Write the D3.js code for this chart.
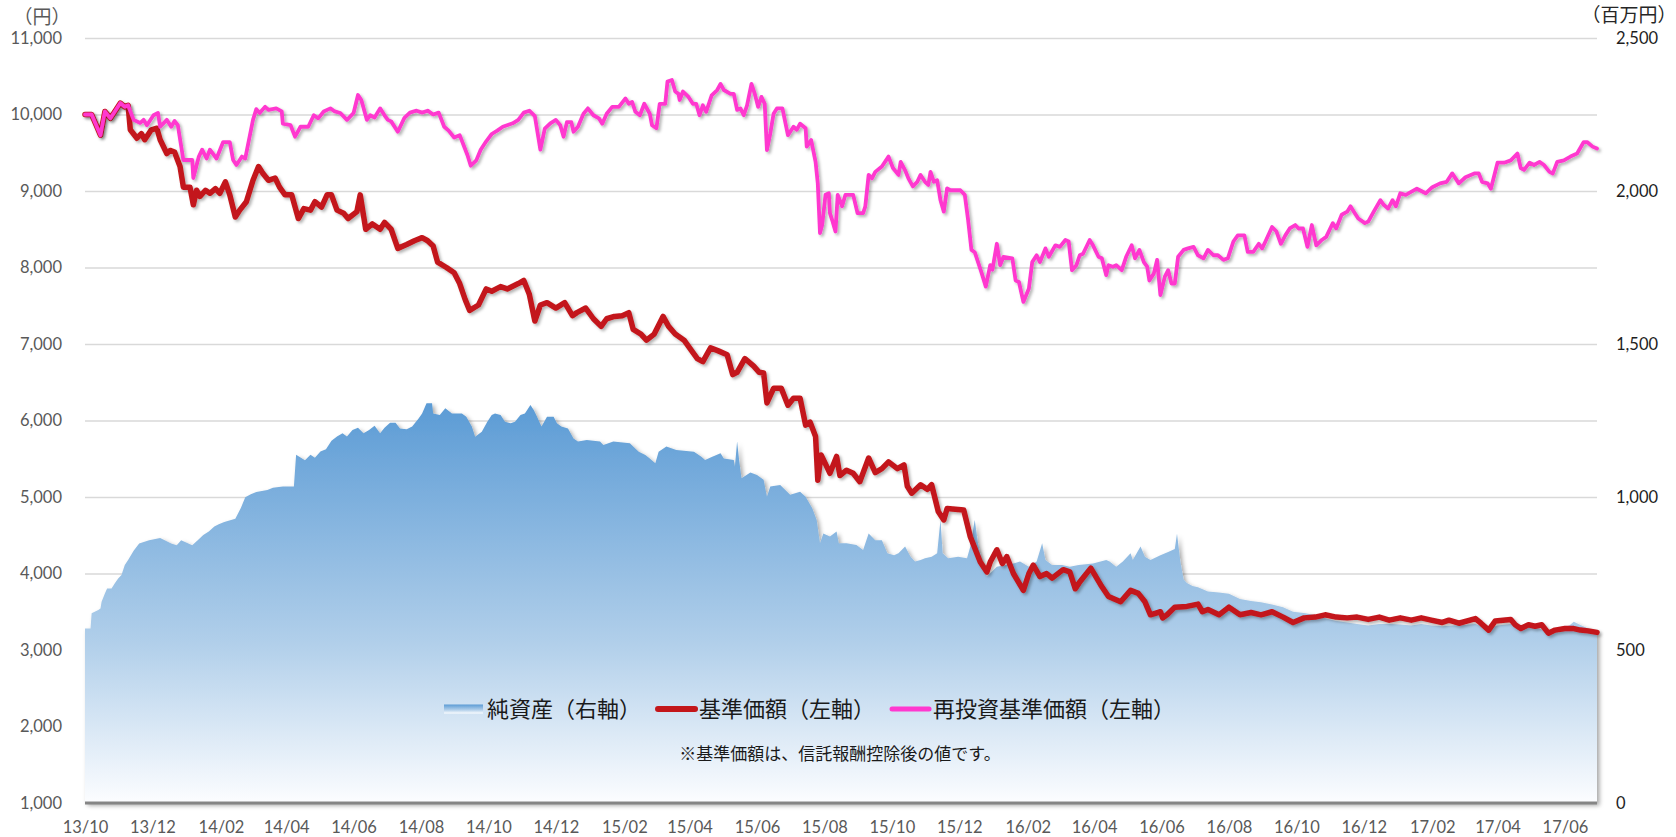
<!DOCTYPE html>
<html>
<head>
<meta charset="utf-8">
<script src="https://cdn.jsdelivr.net/npm/d3@7"></script>
<style>
  body { margin: 0; background: #fff; }
  #chart svg { display: block; }
</style>
</head>
<body>
<div id="chart"></div>
<script>
// x axis labels, left axis (円) and right axis (百万円)
const tickLabels = ["13/10","13/12","14/02","14/04","14/06","14/08","14/10","14/12","15/02","15/04","15/06","15/08","15/10","15/12","16/02","16/04","16/06","16/08","16/10","16/12","17/02","17/04","17/06"];
const leftTicks = [1000,2000,3000,4000,5000,6000,7000,8000,9000,10000,11000];
const rightTicks = [0,500,1000,1500,2000,2500];
const seriesNames = ["純資産（右軸）","基準価額（左軸）","再投資基準価額（左軸）"];

// 純資産 (百万円)
const netAssets = [["2013-10-01",570],["2013-10-06",570],["2013-10-07",620],["2013-10-13",631],["2013-10-15",636],["2013-10-16",658],["2013-10-19",685],["2013-10-21",701],["2013-10-25",701],["2013-10-28",718],["2013-10-31",734],["2013-11-03",745],["2013-11-06",778],["2013-11-09",794],["2013-11-14",824],["2013-11-19",848],["2013-11-28",859],["2013-12-08",866],["2013-12-18",848],["2013-12-23",842],["2013-12-27",859],["2014-01-06",842],["2014-01-11",859],["2014-01-16",876],["2014-01-21",887],["2014-01-26",904],["2014-01-30",911],["2014-02-04",918],["2014-02-14",929],["2014-02-19",964],["2014-02-23",999],["2014-02-28",1009],["2014-03-05",1016],["2014-03-15",1023],["2014-03-20",1030],["2014-03-29",1034],["2014-04-08",1034],["2014-04-10",1138],["2014-04-18",1120],["2014-04-23",1138],["2014-04-27",1128],["2014-05-02",1149],["2014-05-07",1156],["2014-05-12",1184],["2014-05-17",1198],["2014-05-22",1208],["2014-05-26",1198],["2014-05-31",1219],["2014-06-05",1226],["2014-06-10",1208],["2014-06-15",1219],["2014-06-20",1233],["2014-06-25",1208],["2014-06-29",1226],["2014-07-04",1243],["2014-07-09",1243],["2014-07-13",1224],["2014-07-19",1221],["2014-07-24",1230],["2014-07-30",1257],["2014-08-02",1273],["2014-08-06",1306],["2014-08-11",1306],["2014-08-12",1273],["2014-08-18",1268],["2014-08-23",1290],["2014-08-29",1273],["2014-09-07",1273],["2014-09-11",1262],["2014-09-16",1230],["2014-09-19",1197],["2014-09-25",1213],["2014-09-30",1246],["2014-10-04",1268],["2014-10-07",1273],["2014-10-12",1268],["2014-10-16",1246],["2014-10-21",1241],["2014-10-25",1246],["2014-10-30",1268],["2014-11-03",1273],["2014-11-08",1301],["2014-11-11",1284],["2014-11-14",1262],["2014-11-18",1230],["2014-11-23",1262],["2014-11-29",1262],["2014-12-02",1241],["2014-12-06",1230],["2014-12-12",1224],["2014-12-17",1191],["2014-12-21",1181],["2014-12-29",1186],["2015-01-10",1181],["2015-01-13",1170],["2015-01-22",1181],["2015-02-06",1176],["2015-02-09",1165],["2015-02-14",1148],["2015-02-20",1137],["2015-02-24",1126],["2015-03-01",1110],["2015-03-04",1148],["2015-03-11",1165],["2015-03-20",1154],["2015-04-05",1148],["2015-04-12",1131],["2015-04-15",1121],["2015-04-21",1131],["2015-04-29",1143],["2015-05-02",1126],["2015-05-11",1121],["2015-05-12",1099],["2015-05-14",1181],["2015-05-16",1115],["2015-05-18",1061],["2015-05-26",1080],["2015-06-01",1072],["2015-06-07",1056],["2015-06-10",1001],["2015-06-13",1034],["2015-06-22",1039],["2015-07-01",1007],["2015-07-10",1017],["2015-07-15",1001],["2015-07-21",963],["2015-07-25",925],["2015-07-28",849],["2015-07-31",881],["2015-08-06",871],["2015-08-12",887],["2015-08-14",849],["2015-08-21",849],["2015-08-30",843],["2015-09-05",827],["2015-09-10",881],["2015-09-16",859],["2015-09-22",859],["2015-09-27",816],["2015-10-03",810],["2015-10-07",816],["2015-10-13",838],["2015-10-18",805],["2015-10-22",789],["2015-10-27",794],["2015-10-31",800],["2015-11-06",805],["2015-11-11",816],["2015-11-14",925],["2015-11-16",816],["2015-11-21",800],["2015-11-30",805],["2015-12-08",800],["2015-12-11",838],["2015-12-15",925],["2015-12-18",849],["2015-12-23",761],["2015-12-26",740],["2016-01-04",772],["2016-01-19",783],["2016-01-25",789],["2016-02-02",772],["2016-02-09",789],["2016-02-14",849],["2016-02-17",794],["2016-02-23",778],["2016-03-03",778],["2016-03-10",772],["2016-03-18",778],["2016-03-31",783],["2016-04-12",794],["2016-04-15",789],["2016-04-21",772],["2016-04-27",789],["2016-05-04",816],["2016-05-06",794],["2016-05-13",838],["2016-05-17",805],["2016-05-22",794],["2016-05-31",810],["2016-06-07",820],["2016-06-13",830],["2016-06-15",880],["2016-06-18",790],["2016-06-21",730],["2016-06-24",719],["2016-06-29",709],["2016-07-04",705],["2016-07-13",691],["2016-07-23",688],["2016-08-01",684],["2016-08-11",667],["2016-08-21",660],["2016-08-30",656],["2016-09-09",649],["2016-09-19",640],["2016-09-28",625],["2016-10-08",621],["2016-10-18",614],["2016-10-27",604],["2016-11-06",595],["2016-11-16",590],["2016-11-25",585],["2016-12-05",580],["2016-12-15",585],["2016-12-24",585],["2017-01-03",583],["2017-01-13",580],["2017-01-22",585],["2017-01-31",580],["2017-02-10",578],["2017-02-20",580],["2017-03-01",582],["2017-03-12",585],["2017-03-24",570],["2017-04-01",580],["2017-04-13",585],["2017-04-22",575],["2017-05-05",575],["2017-05-17",560],["2017-05-25",570],["2017-06-05",580],["2017-06-09",592],["2017-06-15",582],["2017-06-22",570],["2017-06-30",560]];

// 基準価額 (円)
const basePrice = [["2013-10-01",10000],["2013-10-07",10000],["2013-10-15",9730],["2013-10-19",10040],["2013-10-24",9950],["2013-10-28",10040],["2013-11-02",10150],["2013-11-06",10100],["2013-11-09",10120],["2013-11-11",9800],["2013-11-17",9690],["2013-11-21",9750],["2013-11-24",9670],["2013-11-30",9800],["2013-12-05",9820],["2013-12-08",9670],["2013-12-14",9490],["2013-12-17",9530],["2013-12-21",9510],["2013-12-26",9320],["2013-12-29",9050],["2014-01-04",9050],["2014-01-07",8820],["2014-01-10",9010],["2014-01-13",8930],["2014-01-18",9010],["2014-01-22",8970],["2014-01-27",9030],["2014-01-31",8970],["2014-02-05",9120],["2014-02-09",8950],["2014-02-14",8660],["2014-02-18",8750],["2014-02-24",8860],["2014-03-02",9140],["2014-03-07",9320],["2014-03-11",9230],["2014-03-16",9140],["2014-03-22",9170],["2014-03-26",9050],["2014-03-31",8950],["2014-04-06",8950],["2014-04-12",8640],["2014-04-17",8770],["2014-04-23",8750],["2014-04-27",8860],["2014-05-03",8790],["2014-05-08",8950],["2014-05-12",8950],["2014-05-17",8750],["2014-05-23",8710],["2014-05-27",8640],["2014-06-04",8730],["2014-06-07",8950],["2014-06-12",8500],["2014-06-18",8570],["2014-06-25",8500],["2014-06-29",8590],["2014-07-05",8500],["2014-07-11",8250],["2014-07-19",8300],["2014-07-26",8350],["2014-08-02",8390],["2014-08-07",8350],["2014-08-12",8280],["2014-08-16",8070],["2014-08-24",8000],["2014-08-31",7930],["2014-09-05",7790],["2014-09-10",7580],["2014-09-14",7440],["2014-09-22",7510],["2014-09-29",7720],["2014-10-04",7690],["2014-10-12",7750],["2014-10-18",7720],["2014-10-28",7790],["2014-11-02",7830],["2014-11-07",7650],["2014-11-12",7300],["2014-11-17",7510],["2014-11-23",7540],["2014-12-01",7470],["2014-12-09",7540],["2014-12-16",7370],["2014-12-20",7410],["2014-12-28",7470],["2015-01-04",7330],["2015-01-11",7230],["2015-01-16",7330],["2015-01-23",7360],["2015-01-30",7370],["2015-02-05",7410],["2015-02-09",7190],["2015-02-16",7130],["2015-02-21",7050],["2015-02-28",7130],["2015-03-08",7360],["2015-03-13",7230],["2015-03-19",7130],["2015-03-27",7050],["2015-04-01",6950],["2015-04-08",6810],["2015-04-13",6770],["2015-04-20",6950],["2015-04-27",6910],["2015-05-05",6860],["2015-05-10",6600],["2015-05-14",6630],["2015-05-21",6810],["2015-05-29",6710],["2015-06-03",6630],["2015-06-07",6620],["2015-06-10",6230],["2015-06-16",6420],["2015-06-23",6420],["2015-06-29",6200],["2015-07-04",6290],["2015-07-10",6290],["2015-07-15",5940],["2015-07-19",5980],["2015-07-24",5790],["2015-07-26",5220],["2015-07-29",5550],["2015-08-06",5310],["2015-08-12",5530],["2015-08-15",5280],["2015-08-21",5350],["2015-08-27",5310],["2015-09-02",5200],["2015-09-10",5510],["2015-09-16",5320],["2015-09-22",5370],["2015-09-28",5460],["2015-10-06",5370],["2015-10-12",5420],["2015-10-15",5140],["2015-10-19",5050],["2015-10-27",5160],["2015-11-02",5100],["2015-11-06",5160],["2015-11-12",4810],["2015-11-17",4700],["2015-11-20",4850],["2015-12-05",4830],["2015-12-11",4480],["2015-12-20",4150],["2015-12-26",4020],["2015-12-29",4150],["2016-01-04",4310],["2016-01-09",4130],["2016-01-13",4220],["2016-01-19",4000],["2016-01-28",3780],["2016-02-02",4000],["2016-02-06",4110],["2016-02-12",3960],["2016-02-18",4000],["2016-02-23",3940],["2016-03-04",4050],["2016-03-10",4020],["2016-03-15",3800],["2016-03-19",3890],["2016-03-29",4070],["2016-04-07",3850],["2016-04-14",3700],["2016-04-25",3630],["2016-05-04",3780],["2016-05-11",3740],["2016-05-17",3630],["2016-05-22",3460],["2016-05-31",3500],["2016-06-02",3420],["2016-06-06",3460],["2016-06-13",3560],["2016-06-24",3570],["2016-07-04",3600],["2016-07-08",3500],["2016-07-13",3530],["2016-07-23",3460],["2016-08-01",3560],["2016-08-11",3460],["2016-08-21",3490],["2016-08-30",3460],["2016-09-09",3500],["2016-09-19",3430],["2016-09-28",3360],["2016-10-08",3420],["2016-10-18",3430],["2016-10-27",3460],["2016-11-06",3430],["2016-11-16",3420],["2016-11-25",3430],["2016-12-05",3400],["2016-12-15",3430],["2016-12-24",3390],["2017-01-03",3420],["2017-01-13",3390],["2017-01-22",3420],["2017-01-31",3390],["2017-02-10",3360],["2017-02-16",3390],["2017-02-25",3350],["2017-03-12",3410],["2017-03-17",3350],["2017-03-24",3260],["2017-03-30",3380],["2017-04-13",3400],["2017-04-17",3330],["2017-04-22",3280],["2017-04-29",3330],["2017-05-05",3310],["2017-05-11",3330],["2017-05-17",3220],["2017-05-23",3260],["2017-06-01",3280],["2017-06-09",3280],["2017-06-15",3260],["2017-06-22",3250],["2017-06-30",3230]];

// 再投資基準価額 (円)
const reinvestPrice = [["2013-10-01",10000],["2013-10-07",10000],["2013-10-15",9730],["2013-10-19",10040],["2013-10-24",9950],["2013-10-28",10040],["2013-11-02",10150],["2013-11-06",10100],["2013-11-09",10120],["2013-11-14",9930],["2013-11-20",9890],["2013-11-23",9930],["2013-11-26",9860],["2013-12-02",9990],["2013-12-06",10020],["2013-12-08",9840],["2013-12-14",9930],["2013-12-18",9840],["2013-12-21",9915],["2013-12-24",9860],["2013-12-29",9405],["2014-01-06",9405],["2014-01-07",9170],["2014-01-12",9450],["2014-01-15",9540],["2014-01-19",9425],["2014-01-22",9540],["2014-01-28",9425],["2014-02-03",9640],["2014-02-09",9640],["2014-02-12",9405],["2014-02-15",9340],["2014-02-20",9450],["2014-02-23",9425],["2014-03-02",9930],["2014-03-05",10070],["2014-03-08",10020],["2014-03-13",10100],["2014-03-16",10060],["2014-03-23",10080],["2014-03-28",10040],["2014-03-29",9880],["2014-04-05",9860],["2014-04-09",9710],["2014-04-14",9840],["2014-04-21",9840],["2014-04-26",9990],["2014-04-30",9950],["2014-05-05",10040],["2014-05-11",10080],["2014-05-15",10040],["2014-05-20",10020],["2014-05-26",9930],["2014-06-01",10020],["2014-06-05",10255],["2014-06-08",10190],["2014-06-13",9930],["2014-06-16",9990],["2014-06-20",9960],["2014-06-25",10080],["2014-06-29",9990],["2014-07-02",9930],["2014-07-05",9910],["2014-07-11",9775],["2014-07-17",9955],["2014-07-22",10025],["2014-07-28",10050],["2014-08-02",10025],["2014-08-07",10050],["2014-08-12",10000],["2014-08-17",10025],["2014-08-22",9840],["2014-08-26",9790],["2014-08-31",9700],["2014-09-05",9730],["2014-09-12",9470],["2014-09-15",9330],["2014-09-20",9400],["2014-09-24",9540],["2014-09-29",9650],["2014-10-04",9745],["2014-10-09",9790],["2014-10-14",9840],["2014-10-23",9885],["2014-10-28",9930],["2014-11-02",10025],["2014-11-07",10050],["2014-11-12",9980],["2014-11-17",9540],["2014-11-21",9815],["2014-11-26",9885],["2014-12-01",9930],["2014-12-05",9860],["2014-12-08",9710],["2014-12-11",9900],["2014-12-15",9900],["2014-12-17",9775],["2014-12-21",9840],["2014-12-26",10010],["2014-12-30",10080],["2015-01-04",9990],["2015-01-09",9950],["2015-01-12",9880],["2015-01-16",10010],["2015-01-21",10100],["2015-01-27",10100],["2015-02-02",10210],["2015-02-05",10140],["2015-02-08",10165],["2015-02-11",10035],["2015-02-15",9990],["2015-02-19",10140],["2015-02-24",10010],["2015-02-26",9860],["2015-03-02",9820],["2015-03-05",10140],["2015-03-10",10140],["2015-03-12",10430],["2015-03-16",10450],["2015-03-19",10300],["2015-03-22",10270],["2015-03-23",10190],["2015-03-26",10300],["2015-03-31",10230],["2015-04-04",10140],["2015-04-07",10140],["2015-04-10",9990],["2015-04-13",10120],["2015-04-16",10035],["2015-04-21",10250],["2015-04-26",10320],["2015-04-29",10400],["2015-05-02",10320],["2015-05-08",10270],["2015-05-11",10270],["2015-05-14",10060],["2015-05-17",10080],["2015-05-20",9990],["2015-05-23",10120],["2015-05-27",10400],["2015-05-30",10270],["2015-06-02",10100],["2015-06-05",10230],["2015-06-08",10140],["2015-06-10",9535],["2015-06-13",9750],["2015-06-16",10010],["2015-06-19",10080],["2015-06-24",10080],["2015-06-29",9730],["2015-07-04",9840],["2015-07-07",9800],["2015-07-10",9880],["2015-07-15",9820],["2015-07-16",9580],["2015-07-20",9665],["2015-07-24",9380],["2015-07-26",9100],["2015-07-28",8450],["2015-07-30",8560],["2015-08-02",8950],["2015-08-05",8970],["2015-08-06",8710],["2015-08-08",8620],["2015-08-11",8470],["2015-08-13",8950],["2015-08-17",8800],["2015-08-20",8950],["2015-08-27",8950],["2015-08-31",8710],["2015-09-05",8710],["2015-09-07",8800],["2015-09-10",9210],["2015-09-13",9165],["2015-09-16",9250],["2015-09-22",9320],["2015-09-28",9450],["2015-10-02",9300],["2015-10-07",9210],["2015-10-09",9380],["2015-10-13",9270],["2015-10-16",9165],["2015-10-20",9060],["2015-10-24",9120],["2015-10-27",9210],["2015-10-31",9120],["2015-11-03",9080],["2015-11-05",9250],["2015-11-08",9120],["2015-11-11",9140],["2015-11-14",8880],["2015-11-17",8730],["2015-11-20",9035],["2015-11-23",9010],["2015-12-02",9010],["2015-12-06",8950],["2015-12-09",8620],["2015-12-12",8230],["2015-12-15",8200],["2015-12-18",8070],["2015-12-21",7940],["2015-12-25",7750],["2015-12-29",8030],["2015-12-31",7970],["2016-01-04",8310],["2016-01-07",8030],["2016-01-10",8140],["2016-01-18",8120],["2016-01-21",7830],["2016-01-24",7810],["2016-01-28",7550],["2016-02-02",7725],["2016-02-05",8070],["2016-02-09",8160],["2016-02-12",8070],["2016-02-17",8250],["2016-02-20",8140],["2016-02-26",8290],["2016-03-01",8270],["2016-03-06",8360],["2016-03-09",8340],["2016-03-12",7965],["2016-03-16",8030],["2016-03-19",8160],["2016-03-22",8180],["2016-03-28",8360],["2016-03-31",8290],["2016-04-05",8140],["2016-04-08",8120],["2016-04-12",7900],["2016-04-14",8030],["2016-04-18",8010],["2016-04-21",8030],["2016-04-26",7965],["2016-04-30",8140],["2016-05-05",8290],["2016-05-08",8120],["2016-05-12",8230],["2016-05-16",8070],["2016-05-19",8010],["2016-05-21",7830],["2016-05-25",7920],["2016-05-28",8100],["2016-05-31",7640],["2016-06-04",7880],["2016-06-07",7965],["2016-06-10",7790],["2016-06-13",7790],["2016-06-16",8140],["2016-06-21",8230],["2016-06-25",8250],["2016-06-30",8270],["2016-07-04",8160],["2016-07-09",8120],["2016-07-13",8230],["2016-07-18",8160],["2016-07-22",8160],["2016-07-27",8100],["2016-07-31",8120],["2016-08-05",8340],["2016-08-09",8420],["2016-08-15",8420],["2016-08-18",8205],["2016-08-23",8205],["2016-08-28",8310],["2016-08-31",8250],["2016-09-03",8340],["2016-09-09",8530],["2016-09-13",8470],["2016-09-17",8310],["2016-09-21",8420],["2016-09-25",8510],["2016-09-30",8555],["2016-10-03",8510],["2016-10-07",8510],["2016-10-11",8270],["2016-10-15",8555],["2016-10-19",8290],["2016-10-24",8360],["2016-10-28",8400],["2016-11-03",8580],["2016-11-06",8510],["2016-11-11",8690],["2016-11-16",8730],["2016-11-19",8800],["2016-11-22",8730],["2016-11-26",8640],["2016-12-02",8580],["2016-12-05",8600],["2016-12-10",8730],["2016-12-16",8880],["2016-12-19",8820],["2016-12-23",8770],["2016-12-27",8880],["2016-12-30",8800],["2017-01-03",8970],["2017-01-08",8950],["2017-01-18",9030],["2017-01-26",8970],["2017-02-01",9050],["2017-02-08",9100],["2017-02-14",9120],["2017-02-19",9230],["2017-02-25",9100],["2017-03-03",9180],["2017-03-11",9230],["2017-03-15",9230],["2017-03-18",9120],["2017-03-23",9100],["2017-03-26",9030],["2017-04-01",9370],["2017-04-07",9370],["2017-04-13",9400],["2017-04-19",9490],["2017-04-22",9300],["2017-04-25",9275],["2017-04-30",9370],["2017-05-04",9340],["2017-05-09",9380],["2017-05-13",9340],["2017-05-18",9250],["2017-05-21",9230],["2017-05-25",9380],["2017-05-31",9400],["2017-06-06",9450],["2017-06-12",9490],["2017-06-18",9640],["2017-06-21",9640],["2017-06-26",9580],["2017-06-30",9555]];

const noteText = "※基準価額は、信託報酬控除後の値です。";

const chartWidth = 1676, chartHeight = 837;
const plotLeft = 85, plotRight = 1597, plotTop = 38, plotBottom = 803;
const redColor = "#c3161a", pinkColor = "#ff38cf";
const numFont = "Lato, 'Noto Sans', sans-serif";
const jpFont = "'Noto Sans CJK JP', 'Noto Sans', sans-serif";

const parseDate = d3.timeParse("%Y-%m-%d");
const parseTick = d3.timeParse("%y/%m");
const toPoints = arr => arr.map(d => ({ date: parseDate(d[0]), value: d[1] }));

const x = d3.scaleTime()
  .domain([parseDate("2013-10-01"), parseDate("2017-06-30")])
  .range([plotLeft, plotRight]);
const yLeft = d3.scaleLinear().domain([1000, 11000]).range([plotBottom, plotTop]);
const yRight = d3.scaleLinear().domain([0, 2500]).range([plotBottom, plotTop]);

const svg = d3.select("#chart").append("svg")
  .attr("width", chartWidth)
  .attr("height", chartHeight);

const defs = svg.append("defs");
function addGradient(id) {
  const g = defs.append("linearGradient").attr("id", id)
    .attr("x1", 0).attr("y1", 0).attr("x2", 0).attr("y2", 1);
  g.append("stop").attr("offset", "0%").attr("stop-color", "#5b9bd5");
  g.append("stop").attr("offset", "60%").attr("stop-color", "#b1cfea");
  g.append("stop").attr("offset", "100%").attr("stop-color", "#fcfdff");
}
addGradient("areaFill");
addGradient("legendFill");

const areaShadow = defs.append("filter").attr("id", "areaShadow")
  .attr("x", "-2%").attr("y", "-5%").attr("width", "104%").attr("height", "110%");
areaShadow.append("feDropShadow").attr("dx", 2.5).attr("dy", 2.5).attr("stdDeviation", 2)
  .attr("flood-color", "#000").attr("flood-opacity", 0.35);
const lineShadow = defs.append("filter").attr("id", "lineShadow")
  .attr("x", "-2%").attr("y", "-5%").attr("width", "104%").attr("height", "110%");
lineShadow.append("feDropShadow").attr("dx", 2).attr("dy", 2).attr("stdDeviation", 1.6)
  .attr("flood-color", "#000").attr("flood-opacity", 0.3);

// gridlines
svg.append("g")
  .attr("transform", "translate(" + plotLeft + ",0)")
  .call(d3.axisLeft(yLeft).tickValues(leftTicks.slice(1)).tickSize(-(plotRight - plotLeft)).tickFormat(""))
  .call(g => g.select(".domain").remove())
  .call(g => g.selectAll("line").attr("stroke", "#d9d9d9").attr("stroke-width", 1.5));

// 純資産 area
svg.append("path")
  .datum(toPoints(netAssets))
  .attr("fill", "url(#areaFill)")
  .attr("filter", "url(#areaShadow)")
  .attr("d", d3.area()
    .x(d => x(d.date))
    .y0(yRight(0))
    .y1(d => yRight(d.value)));

// baseline
svg.append("line")
  .attr("x1", plotLeft).attr("x2", plotRight)
  .attr("y1", yLeft(1000)).attr("y2", yLeft(1000))
  .attr("stroke", "#858585").attr("stroke-width", 3);

const line = d3.line().x(d => x(d.date)).y(d => yLeft(d.value));

svg.append("path")
  .datum(toPoints(basePrice))
  .attr("fill", "none")
  .attr("stroke", redColor)
  .attr("stroke-width", 5.5)
  .attr("stroke-linejoin", "round")
  .attr("stroke-linecap", "round")
  .attr("filter", "url(#lineShadow)")
  .attr("d", line);

svg.append("path")
  .datum(toPoints(reinvestPrice))
  .attr("fill", "none")
  .attr("stroke", pinkColor)
  .attr("stroke-width", 3.8)
  .attr("stroke-linejoin", "round")
  .attr("stroke-linecap", "round")
  .attr("filter", "url(#lineShadow)")
  .attr("d", line);

// axes (font set after the axis call, which otherwise resets it)
function styleAxis(g, color) {
  g.attr("font-family", numFont).attr("font-size", 16.5);
  g.select(".domain").remove();
  g.selectAll("text").attr("fill", color);
}

svg.append("g")
  .attr("transform", "translate(" + plotLeft + ",0)")
  .call(d3.axisLeft(yLeft).tickValues(leftTicks).tickSize(0).tickPadding(23).tickFormat(d3.format(",")))
  .call(styleAxis, "#595959");

svg.append("g")
  .attr("transform", "translate(" + plotRight + ",0)")
  .call(d3.axisRight(yRight).tickValues(rightTicks).tickSize(0).tickPadding(19).tickFormat(d3.format(",")))
  .call(styleAxis, "#1e1e1e");

svg.append("g")
  .attr("transform", "translate(0," + plotBottom + ")")
  .call(d3.axisBottom(x).tickValues(tickLabels.map(parseTick)).tickSize(0).tickPadding(18)
    .tickFormat(d3.timeFormat("%y/%m")))
  .call(styleAxis, "#595959");

// unit labels
svg.append("text")
  .attr("x", 42).attr("y", 24)
  .attr("text-anchor", "middle")
  .attr("font-family", jpFont).attr("font-size", 19)
  .attr("fill", "#595959")
  .text("（円）");
svg.append("text")
  .attr("x", 1629).attr("y", 22)
  .attr("text-anchor", "middle")
  .attr("font-family", jpFont).attr("font-size", 19)
  .attr("fill", "#262626")
  .text("（百万円）");

// legend
const legend = svg.append("g").attr("font-family", jpFont).attr("font-size", 22);
const legendY = 709;
let cx = 444;
seriesNames.forEach(function (name, i) {
  if (i === 0) {
    legend.append("rect")
      .attr("x", cx).attr("y", legendY - 4.5)
      .attr("width", 39).attr("height", 9)
      .attr("fill", "url(#legendFill)");
  } else {
    legend.append("line")
      .attr("x1", cx + 2).attr("x2", cx + 39)
      .attr("y1", legendY).attr("y2", legendY)
      .attr("stroke", i === 1 ? redColor : pinkColor)
      .attr("stroke-width", i === 1 ? 6 : 5)
      .attr("stroke-linecap", "round");
  }
  const t = legend.append("text")
    .attr("x", cx + 43).attr("y", legendY + 8)
    .attr("fill", "#1a1a1a")
    .text(name);
  cx = cx + 43 + t.node().getComputedTextLength() + 15;
});

svg.append("text")
  .attr("x", 840).attr("y", 760)
  .attr("text-anchor", "middle")
  .attr("font-family", jpFont).attr("font-size", 17)
  .attr("fill", "#1a1a1a")
  .text(noteText);
</script>
</body>
</html>
